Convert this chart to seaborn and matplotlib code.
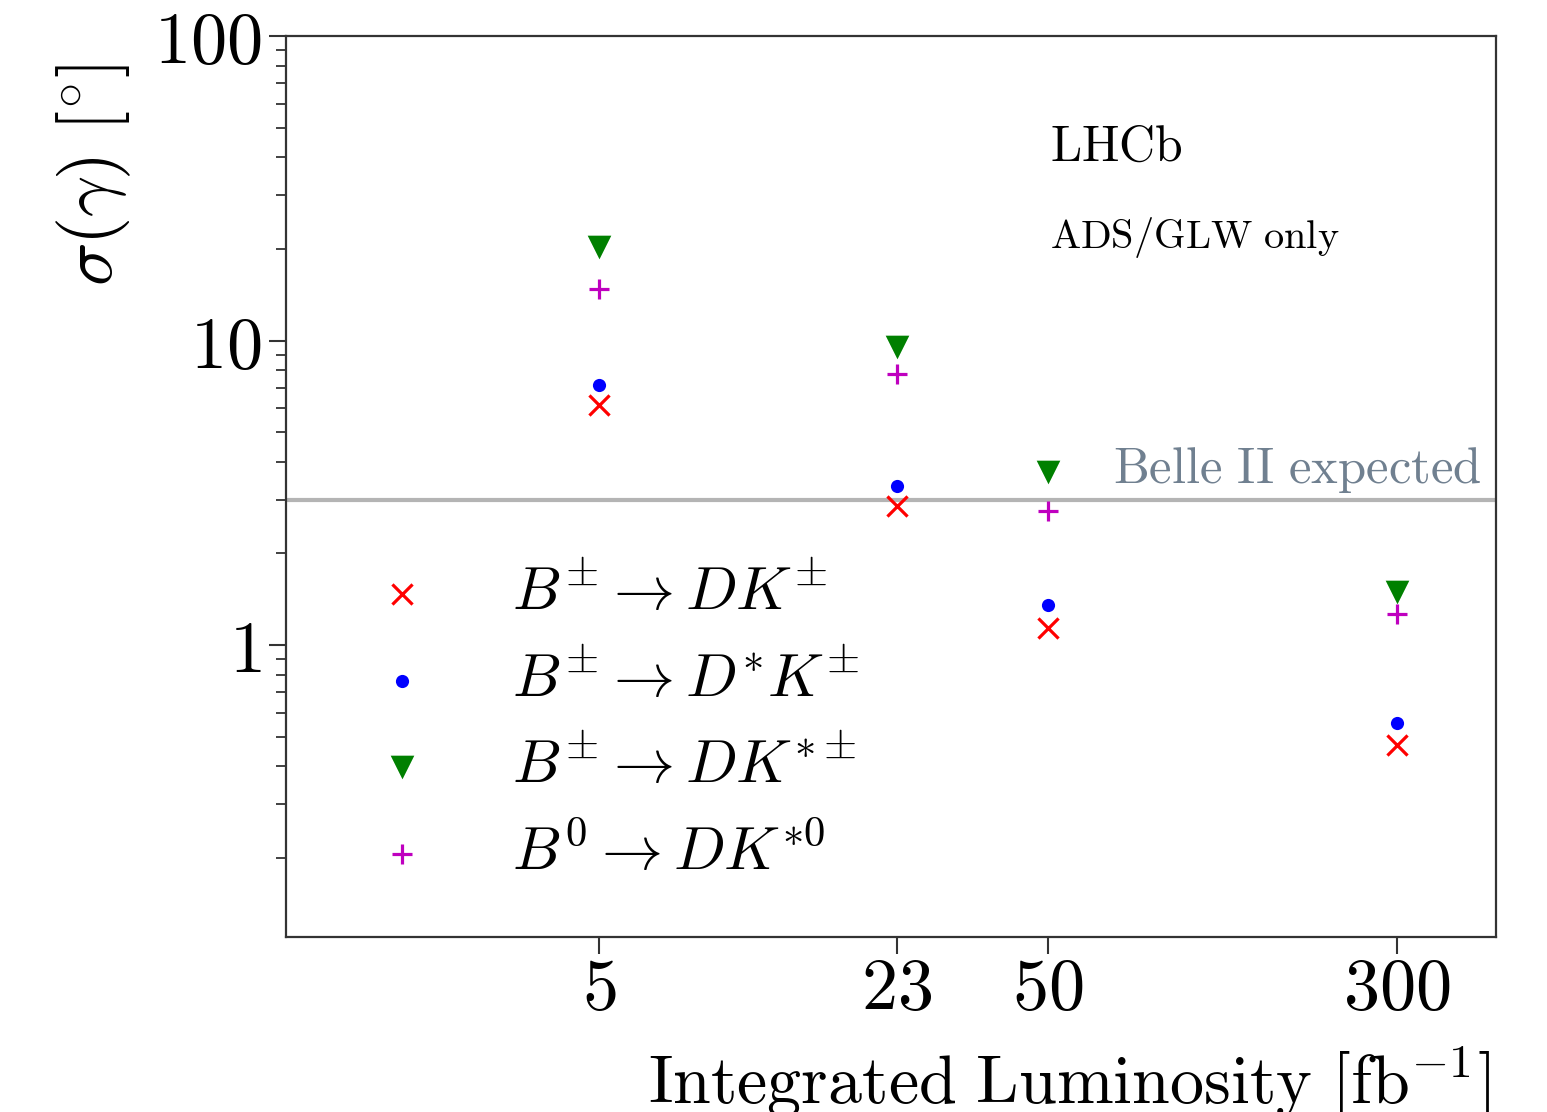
import matplotlib
matplotlib.use("Agg")
import matplotlib.pyplot as plt
import matplotlib.ticker as mticker
import seaborn as sns
import pandas as pd

# integrated luminosity points [fb^-1]
lumi = [5, 23, 50, 300]
# sigma(gamma) in degrees, ADS/GLW only
sig_dk = [6.14, 2.86, 1.14, 0.47]
sig_dstk = [7.14, 3.33, 1.35, 0.553]
sig_dkst = [20.3, 9.55, 3.69, 1.49]
sig_b0 = [14.8, 7.74, 2.76, 1.26]
belle2 = 3.0

labels = [r'$B^{\pm} \rightarrow DK^{\pm}$',
          r'$B^{\pm} \rightarrow D^{*}K^{\pm}$',
          r'$B^{\pm} \rightarrow DK^{*\pm}$',
          r'$B^{0} \rightarrow DK^{*0}$']

sns.set_style("ticks")
plt.rcParams['mathtext.fontset'] = 'cm'
plt.rcParams['axes.linewidth'] = 1.6
plt.rcParams['axes.edgecolor'] = '#333333'
plt.rcParams['text.color'] = 'black'
plt.rcParams['axes.labelcolor'] = 'black'
plt.rcParams['xtick.labelcolor'] = 'black'
plt.rcParams['ytick.labelcolor'] = 'black'

fig = plt.figure(figsize=(15.47, 11.12), dpi=100)
ax = fig.add_axes([0.185, 0.1575, 0.782, 0.81])

ax.axhline(belle2, color='#b4b4b4', lw=3, zorder=1)

series = [
    (sig_dk, 'red', 'x', 210, 2.3),
    (sig_dstk, 'blue', 'o', 90, 0),
    (sig_dkst, 'green', 'v', 290, 0),
    (sig_b0, 'm', '+', 210, 2.3),
]
for (vals, col, mk, s, lw), lab in zip(series, labels):
    df = pd.DataFrame({'lumi': lumi, 'sigma': vals})
    sns.scatterplot(data=df, x='lumi', y='sigma', color=col, marker=mk, s=s,
                    linewidth=lw, edgecolor=col if lw == 0 else None,
                    label=lab, ax=ax, zorder=3)

ax.set_xscale('log')
ax.set_yscale('log')
ax.set_xlim(1, 500)
ax.set_ylim(0.11, 100)

ax.xaxis.set_major_locator(mticker.FixedLocator(lumi))
ax.xaxis.set_major_formatter(mticker.FixedFormatter([r'$%d$' % v for v in lumi]))
ax.xaxis.set_minor_locator(mticker.NullLocator())
ax.yaxis.set_major_locator(mticker.FixedLocator([1, 10, 100]))
ax.yaxis.set_major_formatter(mticker.FixedFormatter([r'$1$', r'$10$', r'$100$']))
ax.yaxis.set_minor_locator(mticker.LogLocator(base=10, subs=range(2, 10)))
ax.yaxis.set_minor_formatter(mticker.NullFormatter())

ax.tick_params(axis='both', which='major', direction='out', length=12, width=1.5,
               labelsize=52, color='#333333')
ax.tick_params(axis='x', which='major', pad=1)
ax.tick_params(axis='y', which='major', pad=6)
ax.tick_params(axis='y', which='minor', direction='out', length=7, width=1.3,
               color='#333333')

ax.set_xlabel(r'$\mathrm{Integrated\ Luminosity\ [fb^{-1}]}$', fontsize=49, loc='right')
ax.xaxis.set_label_coords(0.995, -0.118)
ax.set_ylabel(r'$\sigma(\gamma)\ [^{\circ}]$', fontsize=52)
ax.yaxis.set_label_coords(-0.127, 0.846)

ax.text(0.631, 0.862, r'$\mathrm{LHCb}$', transform=ax.transAxes, fontsize=36,
        va='baseline')
ax.text(0.631, 0.765, r'$\mathrm{ADS/GLW\ only}$', transform=ax.transAxes,
        fontsize=29, va='baseline')
ax.text(0.988, 0.504, r'$\mathrm{Belle\ II\ expected}$', transform=ax.transAxes,
        fontsize=36.5, color='slategray', ha='right', va='baseline')

ax.legend(loc='center left', bbox_to_anchor=(0.025, 0.237), frameon=False,
          fontsize=44, borderaxespad=0, scatterpoints=1, labelspacing=0.45)

fig.savefig('out.png', dpi=100)
